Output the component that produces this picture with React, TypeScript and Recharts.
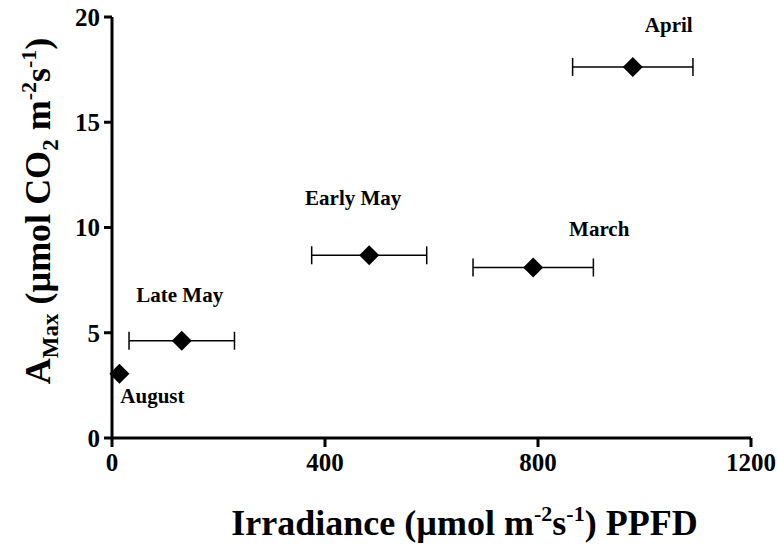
import { ScatterChart, Scatter, XAxis, YAxis, ErrorBar, Label } from "recharts";

const months = ["August", "Late May", "Early May", "March", "April"];
const irradiance = [14, 131, 483, 791, 978];
const irradianceErr = [0, 99, 108, 113, 113];
const aMax = [3.05, 4.62, 8.68, 8.1, 17.63];
const xTicks = [0, 400, 800, 1200];
const yTicks = [0, 5, 10, 15, 20];

const data = months.map((m, i) => ({ name: m, x: irradiance[i], y: aMax[i], xErr: irradianceErr[i] }));

// label placement relative to each marker
const labelOffsets: Record<string, [number, number]> = {
  August: [33, 29],
  "Late May": [-2, -39],
  "Early May": [-16, -50],
  March: [66, -31],
  April: [36, -35],
};

const FONT = "'Liberation Serif', 'Times New Roman', serif";

function DiamondShape(props: any) {
  const { cx, cy, payload } = props;
  const r = 10;
  const [dx, dy] = labelOffsets[payload.name] ?? [0, -30];
  return (
    <g>
      <polygon points={`${cx},${cy - r} ${cx + r},${cy} ${cx},${cy + r} ${cx - r},${cy}`} fill="#000" />
      <text x={cx + dx} y={cy + dy} textAnchor="middle" fontFamily={FONT} fontWeight="bold" fontSize={21} fill="#000">
        {payload.name}
      </text>
    </g>
  );
}

function XTitle(props: any) {
  const { viewBox } = props;
  const cx = viewBox.x + viewBox.width / 2 + 33;
  return (
    <text x={cx} y={535} textAnchor="middle" fontFamily={FONT} fontWeight="bold" fontSize={36} fill="#000">
      Irradiance (µmol m<tspan dy={-14} fontSize={22}>-2</tspan>
      <tspan dy={14}>s</tspan>
      <tspan dy={-14} fontSize={22}>-1</tspan>
      <tspan dy={14}>) PPFD</tspan>
    </text>
  );
}

function YTitle() {
  return (
    <text
      x={0}
      y={0}
      transform="translate(50, 211) rotate(-90)"
      textAnchor="middle"
      fontFamily={FONT}
      fontWeight="bold"
      fontSize={36}
      fill="#000"
    >
      A<tspan dy={8} fontSize={23}>Max</tspan>
      <tspan dy={-8}> (µmol CO</tspan>
      <tspan dy={8} fontSize={23}>2</tspan>
      <tspan dy={-8}> m</tspan>
      <tspan dy={-14} fontSize={22}>-2</tspan>
      <tspan dy={14}>s</tspan>
      <tspan dy={-14} fontSize={22}>-1</tspan>
      <tspan dy={14}>)</tspan>
    </text>
  );
}

const tickStyle = { fill: "#000", fontSize: 25, fontWeight: "bold", fontFamily: FONT };

export default function App() {
  return (
    <div style={{ position: "absolute", left: 0, top: 0, width: 777, height: 544, background: "#fff" }}>
      <ScatterChart width={777} height={544} margin={{ top: 17, right: 26, left: 0, bottom: 0 }}>
        <XAxis
          dataKey="x"
          type="number"
          domain={[0, 1200]}
          ticks={xTicks}
          tickSize={9}
          tickMargin={6}
          height={106}
          axisLine={{ stroke: "#000", strokeWidth: 3 }}
          tickLine={{ stroke: "#000", strokeWidth: 3 }}
          tick={tickStyle}
        >
          <Label content={XTitle} />
        </XAxis>
        <YAxis
          dataKey="y"
          type="number"
          domain={[0, 20]}
          ticks={yTicks}
          tickSize={8}
          tickMargin={4}
          width={112}
          axisLine={{ stroke: "#000", strokeWidth: 3 }}
          tickLine={{ stroke: "#000", strokeWidth: 3 }}
          tick={tickStyle}
        >
          <Label content={YTitle} />
        </YAxis>
        <Scatter data={data} shape={DiamondShape} isAnimationActive={false}>
          <ErrorBar dataKey="xErr" direction="x" width={9} stroke="#000" strokeWidth={1.5} isAnimationActive={false} />
        </Scatter>
      </ScatterChart>
    </div>
  );
}
